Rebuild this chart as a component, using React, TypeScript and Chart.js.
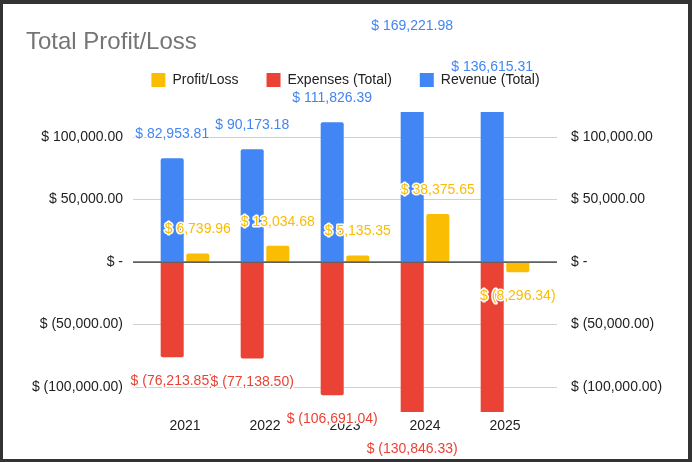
import React, { useEffect, useRef } from 'react';
import { Chart, registerables } from 'chart.js';

Chart.register(...registerables);

const years = ['2021', '2022', '2023', '2024', '2025'];
const profitLoss = [6739.96, 13034.68, 5135.35, 38375.65, -8296.34];
const expensesTotal = [-76213.85, -77138.5, -106691.04, -130846.33, -144911.65];
const revenueTotal = [82953.81, 90173.18, 111826.39, 169221.98, 136615.31];
const yTickValues = [-100000, -50000, 0, 50000, 100000];
const yMin = -120000;
const yMax = 120000;

const COLORS = { profit: '#fbbc04', expenses: '#ea4335', revenue: '#4285f4' };
const FONT = 'Arial, "Liberation Sans", sans-serif';
const TICK_LEN = 12;

function money(v: number): string {
  if (v === 0) return '$ -';
  const s = Math.abs(v).toLocaleString('en-US', { minimumFractionDigits: 2, maximumFractionDigits: 2 });
  return v < 0 ? `$ (${s})` : `$ ${s}`;
}

const gridColor = (ctx: any) => (ctx.tick && ctx.tick.value === 0 ? '#5f5f5f' : '#d0d0d0');

const legendSpacer = {
  id: 'legendSpacer',
  beforeInit(chart: any) {
    const orig = chart.legend.fit;
    chart.legend.fit = function () {
      orig.call(this);
      this.height += 15;
    };
  },
};

const overlay = {
  id: 'overlay',
  afterDatasetsDraw(chart: any) {
    const ctx = chart.ctx;
    const { left, right } = chart.chartArea;
    const y0 = chart.scales.y.getPixelForValue(0);
    ctx.save();
    ctx.strokeStyle = '#5f5f5f';
    ctx.lineWidth = 1.5;
    ctx.beginPath();
    ctx.moveTo(left - TICK_LEN, y0);
    ctx.lineTo(right + TICK_LEN, y0);
    ctx.stroke();

    ctx.font = `14px ${FONT}`;
    ctx.textAlign = 'center';
    ctx.textBaseline = 'middle';
    ctx.lineJoin = 'round';
    chart.data.datasets.forEach((ds: any, di: number) => {
      const meta = chart.getDatasetMeta(di);
      if (meta.hidden) return;
      meta.data.forEach((bar: any, i: number) => {
        const v = ds.data[i];
        const ty = v >= 0 ? bar.y - 24 : bar.y + 24;
        const txt = money(v);
        ctx.lineWidth = 3;
        ctx.strokeStyle = '#ffffff';
        ctx.strokeText(txt, bar.x, ty);
        ctx.fillStyle = ds.backgroundColor;
        ctx.fillText(txt, bar.x, ty);
      });
    });
    ctx.restore();
  },
};

export default function App() {
  const ref = useRef<HTMLCanvasElement>(null);

  useEffect(() => {
    if (!ref.current) return;
    const barCommon = {
      categoryPercentage: 0.64,
      barPercentage: 0.9,
      borderWidth: 0,
      borderRadius: 2,
    };
    const chart = new Chart(ref.current, {
      type: 'bar',
      data: {
        labels: years,
        datasets: [
          { label: 'Profit/Loss', data: profitLoss, backgroundColor: COLORS.profit, borderColor: COLORS.profit, stack: 'p', order: 1, ...barCommon },
          { label: 'Expenses (Total)', data: expensesTotal, backgroundColor: COLORS.expenses, borderColor: COLORS.expenses, stack: 'er', order: 0, ...barCommon },
          { label: 'Revenue (Total)', data: revenueTotal, backgroundColor: COLORS.revenue, borderColor: COLORS.revenue, stack: 'er', order: 0, ...barCommon },
        ],
      },
      options: {
        responsive: false,
        animation: false,
        devicePixelRatio: 1,
        layout: { padding: { left: 23, right: 23, top: 0, bottom: 0 } },
        plugins: {
          tooltip: { enabled: false },
          title: {
            display: true,
            text: 'Total Profit/Loss',
            align: 'start',
            color: '#757575',
            font: { family: FONT, size: 24, weight: 'normal' },
            padding: { top: 24, bottom: -11.8 },
          },
          legend: {
            display: true,
            position: 'top',
            align: 'center',
            labels: {
              boxWidth: 14,
              boxHeight: 14,
              padding: 28,
              color: '#222222',
              font: { family: FONT, size: 14 },
              sort: (a: any, b: any) => a.datasetIndex - b.datasetIndex,
            },
          },
        },
        scales: {
          x: {
            stacked: true,
            grid: { display: false, drawTicks: false },
            border: { display: false },
            ticks: { color: '#222222', font: { family: FONT, size: 14 }, padding: 6 },
            afterFit: (s: any) => { s.height = 47; },
          },
          y: {
            stacked: true,
            position: 'left',
            min: yMin,
            max: yMax,
            afterBuildTicks: (s: any) => { s.ticks = yTickValues.map((v) => ({ value: v })); },
            grid: { color: gridColor, lineWidth: 1, drawTicks: true, tickLength: TICK_LEN },
            border: { display: false },
            ticks: { color: '#222222', font: { family: FONT, size: 14 }, padding: 10, callback: (v: any) => money(Number(v)) },
            afterFit: (s: any) => { s.width = 119; },
          },
          y2: {
            position: 'right',
            min: yMin,
            max: yMax,
            afterBuildTicks: (s: any) => { s.ticks = yTickValues.map((v) => ({ value: v })); },
            grid: { color: gridColor, lineWidth: 1, drawOnChartArea: false, drawTicks: true, tickLength: TICK_LEN },
            border: { display: false },
            ticks: { color: '#222222', font: { family: FONT, size: 14 }, padding: 14, callback: (v: any) => money(Number(v)) },
            afterFit: (s: any) => { s.width = 120; },
          },
        },
      } as any,
      plugins: [legendSpacer, overlay],
    });
    return () => chart.destroy();
  }, []);

  return (
    <div
      style={{
        position: 'fixed',
        left: 0,
        top: 0,
        width: 692,
        height: 462,
        boxSizing: 'border-box',
        padding: '4px 4px 3px 3px',
        background: '#333333',
      }}
    >
      <div style={{ width: 685, height: 455, background: '#ffffff' }}>
        <canvas ref={ref} width={685} height={455} style={{ display: 'block' }} />
      </div>
    </div>
  );
}
